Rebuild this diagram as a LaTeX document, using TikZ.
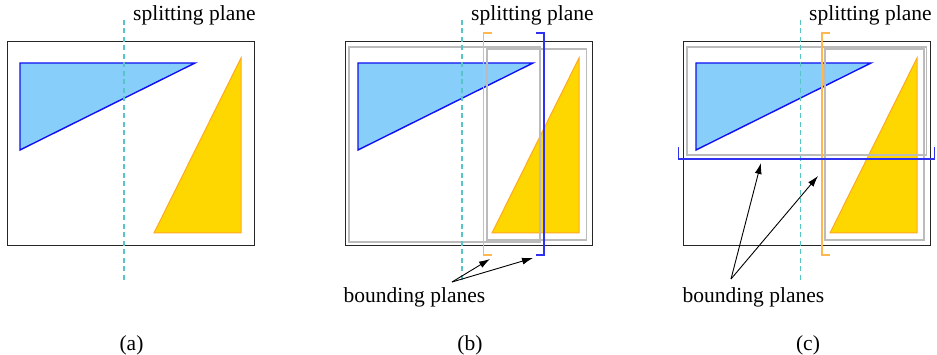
\documentclass[tikz,border=0pt]{standalone}
\usepackage{fontspec}
\setmainfont{Liberation Serif}
\usetikzlibrary{arrows.meta}
\definecolor{tblue}{HTML}{87CEFA}
\definecolor{tbluel}{HTML}{1010F0}
\definecolor{tgold}{HTML}{FFD700}
\definecolor{tor}{HTML}{FFA820}
\definecolor{split}{HTML}{55C5C8}
\definecolor{bgray}{HTML}{BBBBBB}
\definecolor{bracko}{HTML}{FFB850}
\definecolor{brackb}{HTML}{3030F0}
\tikzset{
  box/.style={draw=black!85, line width=1pt},
  bluetri/.style={fill=tblue, draw=tbluel, line width=1.4pt, line join=miter},
  goldtri/.style={fill=tgold, draw=tor, line width=1pt},
  splitline/.style={draw=split, line width=1.3pt, dash pattern=on 5pt off 3.5pt},
  bbox/.style={draw=bgray, line width=1.6pt},
  obrack/.style={draw=bracko, line width=1.3pt},
  bbrack/.style={draw=brackb, line width=1.3pt},
  lbl/.style={font=\fontsize{21.5}{25}\selectfont, inner sep=0pt},
  arr/.style={-{Latex[length=11pt,width=7pt]}, line width=0.9pt},
}
\begin{document}
\begin{tikzpicture}[x=1pt,y=-1pt]
\useasboundingbox (0,0) rectangle (937,355);
% ===== panel (a)
\draw[box] (7,42) rectangle (254,246);
\filldraw[bluetri] (20,63) -- (195,63) -- (20,150) -- cycle;
\filldraw[goldtri] (241,58) -- (241,233) -- (154,233) -- cycle;
\draw[splitline] (124,20) -- (124,281);
\node[lbl, anchor=base west] (spa) at (133,21) {splitting plane};
\node[lbl, anchor=base] (la) at (131.5,350) {(a)};
% ===== panel (b)
\draw[box] (345,42) rectangle (592,246);
\filldraw[bluetri] (358,63) -- (533,63) -- (358,150) -- cycle;
\filldraw[goldtri] (579,58) -- (579,233) -- (492,233) -- cycle;
\draw[bbox] (349,47) rectangle (540,242);
\draw[bbox] (487,49) rectangle (586.5,240);
\draw[splitline] (462,20) -- (462,281);
\draw[obrack] (492,33) -- (483.5,33) -- (483.5,255) -- (492,255);
\draw[bbrack] (536,33) -- (544,33) -- (544,255) -- (536,255);
\node[lbl, anchor=base west] (spb) at (471,21) {splitting plane};
\node[lbl, anchor=base] (bpb) at (414.5,303) {bounding planes};
\coordinate (ob) at (452,282);
\coordinate (tb1) at (490,259);
\coordinate (tb2) at (533,258);
\draw[arr] (ob) -- (tb1);
\draw[arr] (ob) -- (tb2);
\node[lbl, anchor=base] (lb) at (470,350) {(b)};
% ===== panel (c)
\draw[box] (683,42) rectangle (930,246);
\filldraw[bluetri] (696,63) -- (871,63) -- (696,150) -- cycle;
\filldraw[goldtri] (917,58) -- (917,233) -- (830,233) -- cycle;
\draw[bbox] (687,47) rectangle (926.5,155);
\draw[bbox] (825,49) rectangle (924,240);
\draw[splitline] (800.5,20) -- (800.5,281);
\draw[obrack] (830,33) -- (822,33) -- (822,255) -- (830,255);
\draw[bbrack] (678.5,147) -- (678.5,159) -- (934.5,159) -- (934.5,147);
\node[lbl, anchor=base west] (spc) at (809,21) {splitting plane};
\node[lbl, anchor=base] (bpc) at (753.5,303) {bounding planes};
\coordinate (oc) at (731,279);
\coordinate (tc1) at (761,163);
\coordinate (tc2) at (818,176);
\draw[arr] (oc) -- (tc1);
\draw[arr] (oc) -- (tc2);
\node[lbl, anchor=base] (lc) at (808,350) {(c)};
\end{tikzpicture}
\end{document}
